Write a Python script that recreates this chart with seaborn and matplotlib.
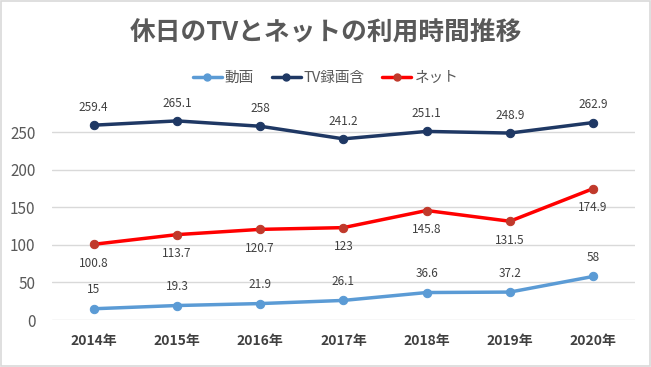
import seaborn as sns
import matplotlib.pyplot as plt
import pandas as pd

# データ
years = ['2014年', '2015年', '2016年', '2017年', '2018年', '2019年', '2020年']
douga = [15, 19.3, 21.9, 26.1, 36.6, 37.2, 58]
tv = [259.4, 265.1, 258, 241.2, 251.1, 248.9, 262.9]
net = [100.8, 113.7, 120.7, 123, 145.8, 131.5, 174.9]

sns.set_theme(style='white')
plt.rcParams['font.family'] = ['Noto Sans CJK JP', 'DejaVu Sans']

df = pd.DataFrame({'year': years, '動画': douga, 'TV録画含': tv, 'ネット': net})
long = df.melt(id_vars='year', var_name='系列', value_name='時間')

fig = plt.figure(figsize=(6.51, 3.67), dpi=100)
ax = fig.add_axes([0.080, 0.128, 0.895, 0.614])

line_colors = {'動画': '#5B9BD5', 'TV録画含': '#1F3864', 'ネット': '#FF0000'}
marker_colors = {'動画': '#5B9BD5', 'TV録画含': '#1F3864', 'ネット': '#C0392B'}

sns.lineplot(data=long, x='year', y='時間', hue='系列', palette=line_colors,
             linewidth=2.5, marker='o', markersize=6, ax=ax, legend=False, sort=False)
# マーカーの色を合わせる
for line, name in zip(ax.lines, ['動画', 'TV録画含', 'ネット']):
    line.set_markerfacecolor(marker_colors[name])
    line.set_markeredgecolor(marker_colors[name])

# データラベル
for i in range(len(years)):
    ax.annotate(f'{tv[i]:g}', (i, tv[i]), xytext=(0, 8), textcoords='offset points',
                ha='center', va='bottom', fontsize=8.5, color='#404040')
    ax.annotate(f'{net[i]:g}', (i, net[i]), xytext=(0, -9), textcoords='offset points',
                ha='center', va='top', fontsize=8.5, color='#404040')
    ax.annotate(f'{douga[i]:g}', (i, douga[i]), xytext=(0, 9), textcoords='offset points',
                ha='center', va='bottom', fontsize=8.5, color='#404040')

ax.set_xlim(-0.5, 6.5)
ax.set_ylim(0, 300)
ax.set_yticks([0, 50, 100, 150, 200, 250])
ax.yaxis.grid(True, color='#D9D9D9', linewidth=1)
ax.set_axisbelow(True)
for s in ax.spines.values():
    s.set_visible(False)
ax.set_xlabel('')
ax.set_ylabel('')
ax.tick_params(axis='y', labelsize=11, labelcolor='#595959', length=0, pad=12)
ax.tick_params(axis='x', labelsize=10, labelcolor='#404040', length=0, pad=10)
for lbl in ax.get_xticklabels():
    lbl.set_fontweight('bold')

# 凡例
handles = [plt.Line2D([], [], color=line_colors[n], linewidth=2.5, marker='o', markersize=5,
                      markerfacecolor=marker_colors[n], markeredgecolor=marker_colors[n])
           for n in ['動画', 'TV録画含', 'ネット']]
fig.legend(handles, ['動画', 'TV録画含', 'ネット'], loc='center', bbox_to_anchor=(0.5, 0.787),
           ncol=3, frameon=False, fontsize=10.5, labelcolor='#595959',
           handlelength=2.0, handletextpad=0.2, columnspacing=1.2)

fig.text(0.5, 0.91, '休日のTVとネットの利用時間推移', ha='center', va='center',
         fontsize=18.5, fontweight='bold', color='#595959')

# 枠線
fig.patches.append(plt.Rectangle((0.002, 0.003), 0.996, 0.994, transform=fig.transFigure,
                                 fill=False, edgecolor='#D9D9D9', linewidth=1.2))

plt.savefig('out.png', dpi=100)
